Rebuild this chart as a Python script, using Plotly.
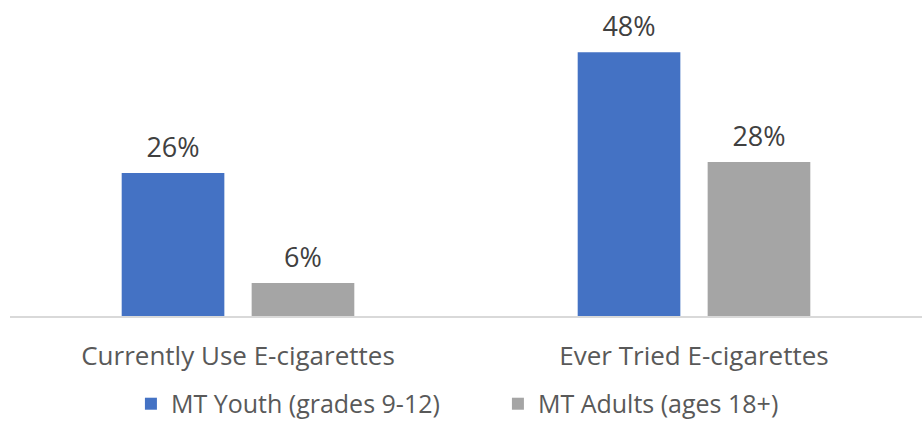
import plotly.graph_objects as go

categories = ["Currently Use E-cigarettes", "Ever Tried E-cigarettes"]
youth_pct = [26, 48]
adult_pct = [6, 28]
series_names = ["MT Youth (grades 9-12)", "MT Adults (ages 18+)"]
series_colors = ["#4472C4", "#A5A5A5"]

FONT = "Open Sans"
LABEL = "#404040"
AXIS_TEXT = "#595959"
GAP = 0.43

fig = go.Figure()
for name, vals, color in zip(series_names, [youth_pct, adult_pct], series_colors):
    fig.add_trace(go.Bar(
        x=categories, y=vals, name=name,
        marker=dict(color=color, line=dict(width=0)),
        hoverinfo="skip",
    ))

# value labels, grouped the same way as the bars so they sit above each one
for name, vals in zip(series_names, [youth_pct, adult_pct]):
    fig.add_trace(go.Scatter(
        x=categories, y=vals, mode="markers+text",
        text=[f"{v}%" for v in vals], textposition="top center",
        textfont=dict(size=27, color=LABEL, family=FONT),
        marker=dict(size=13, opacity=0),
        showlegend=False, hoverinfo="skip", cliponaxis=False,
    ))

fig.update_layout(
    width=923, height=423,
    margin=dict(l=10, r=1, t=0, b=107),
    paper_bgcolor="white", plot_bgcolor="white",
    barmode="group", bargap=GAP, bargroupgap=0.21,
    scattermode="group", scattergap=GAP,
    font=dict(family=FONT, color=AXIS_TEXT, size=26),
    showlegend=True,
    legend=dict(
        orientation="h", x=0.535, xanchor="center",
        yref="container", y=0.045, yanchor="middle",
        font=dict(size=25, color=AXIS_TEXT, family=FONT),
        itemwidth=30, traceorder="normal", entrywidth=322,
    ),
    xaxis=dict(
        showline=True, linecolor="#D9D9D9", linewidth=1.5,
        ticks="", tickfont=dict(size=26, color=AXIS_TEXT, family=FONT),
        ticklabelstandoff=16, showgrid=False,
    ),
    yaxis=dict(range=[0, 57.5], visible=False, showgrid=False, zeroline=False),
)

fig.write_html("out.html")
